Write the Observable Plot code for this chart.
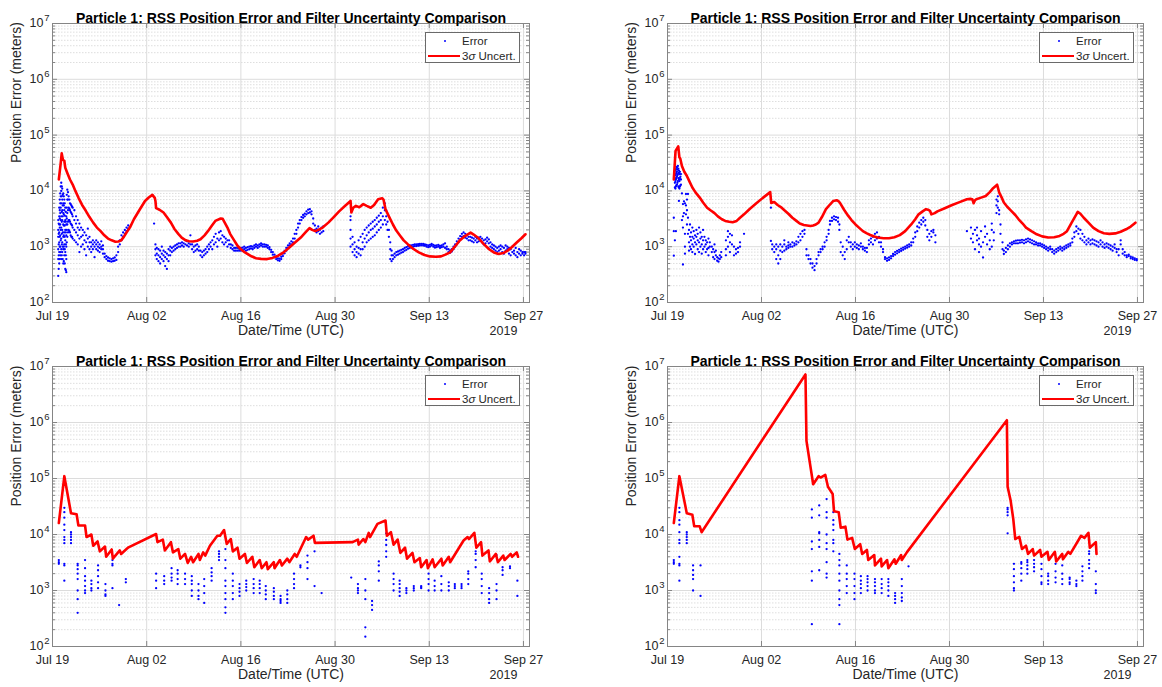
<!DOCTYPE html>
<html><head><meta charset="utf-8">
<script src="https://cdn.jsdelivr.net/npm/d3@7"></script>
<script src="https://cdn.jsdelivr.net/npm/@observablehq/plot@0.6"></script>
<style>
body{margin:0;background:#fff;}
#root{position:relative;width:1162px;height:687px;overflow:hidden;font-family:"Liberation Sans",Arial,sans-serif;background:#fff;}
.cell{position:absolute;}
.legend{position:absolute;width:95px;height:31px;box-sizing:border-box;border:1px solid #6a6a6a;background:#fff;color:#262626;font-size:11.5px;}
.ldot{position:absolute;left:17.8px;top:6.8px;width:2.4px;height:2.4px;border-radius:50%;background:#0000ff;}
.lline{position:absolute;left:2px;top:21.75px;width:32px;height:2.5px;background:#ff0000;}
.lt{position:absolute;left:36px;line-height:16px;white-space:nowrap;}
</style></head><body><div id="root"></div>
<script>
// ---------- axis tick values / labels ----------
const xTickDates = ["2019-07-19","2019-08-02","2019-08-16","2019-08-30","2019-09-13","2019-09-27"];
const xTickLabels = ["Jul 19","Aug 02","Aug 16","Aug 30","Sep 13","Sep 27"];
const yDecades = [1e2,1e3,1e4,1e5,1e6,1e7];
const titleText = "Particle 1: RSS Position Error and Filter Uncertainty Comparison";
const yLabelText = "Position Error (meters)";
const xLabelText = "Date/Time (UTC)";
const yearText = "2019";
const startDate = "2019-07-19"; // day 0 of the series below
const xSpanDays = 70.9;

// ---------- Panel 1 (top-left) ----------
// 3-sigma uncertainty: [day since Jul 19, meters]
const p1Unc = [[0.94,16000],[1.2,30000],[1.37,47000],[1.55,36000],[1.75,35000],[1.9,26000],[2.2,21000],[2.6,16000],[3.0,13000],[3.4,10000],[3.85,7600],[4.4,5600],[4.95,4400],[5.5,3400],[6.05,2700],[6.6,2200],[7.15,1900],[7.7,1600],[8.25,1400],[8.8,1300],[9.35,1230],[9.8,1240],[10.2,1300],[10.6,1500],[11.0,1800],[11.5,2200],[12.1,3100],[12.9,4500],[13.75,6600],[14.3,7600],[14.85,8500],[15.2,7500],[15.3,6600],[15.4,4900],[15.9,4600],[16.5,4100],[17.0,3400],[17.6,2700],[18.1,2100],[18.7,1700],[19.2,1450],[19.8,1300],[20.3,1250],[20.9,1240],[21.5,1280],[22.0,1360],[22.6,1600],[23.1,1900],[23.7,2400],[24.2,2900],[25.0,3200],[25.3,3150],[25.6,2700],[26.0,2200],[26.4,1700],[27.0,1300],[27.5,1040],[28.0,900],[28.6,790],[29.4,690],[30.25,620],[31.0,605],[31.9,600],[32.7,630],[33.55,690],[34.4,800],[35.2,970],[36.0,1180],[36.9,1460],[37.6,1800],[38.2,2150],[38.6,2000],[39.05,1900],[39.5,2000],[40.15,2200],[41.0,2700],[41.8,3400],[42.6,4300],[43.5,5400],[44.3,6600],[44.42,4100],[44.7,5000],[45.1,5400],[45.6,5100],[46.2,5800],[46.7,5400],[47.3,5000],[47.8,5600],[48.4,7100],[49.0,7400],[49.2,7000],[49.5,4700],[50.0,3500],[50.6,2500],[51.1,1950],[51.7,1560],[52.2,1300],[52.8,1110],[53.6,920],[54.45,790],[55.3,710],[56.1,670],[57.0,660],[57.75,670],[58.4,720],[59.1,790],[59.8,1000],[60.5,1280],[61.3,1550],[62.15,1790],[62.6,1650],[63.25,1450],[64.0,1150],[64.9,900],[65.6,790],[66.3,740],[67.0,770],[67.65,850],[68.3,990],[69.0,1190],[69.7,1420],[70.3,1670]];
// RSS error samples: [day, [meters...]]
const p1Err = [[0.85,[300,600,900,1500,2000,3000]],[0.92,[400,700,1100,1700,2600]],[1.0,[500,800,1200,1800,2500,3500,5000]],[1.08,[600,1000,1500,2200,3200,4500,7000]],[1.15,[700,1000,1600,2500,4000,6000,9000]],[1.22,[800,1300,2000,3000,5000,8000,12000]],[1.3,[600,900,1400,2200,3500,6000,10000,14000]],[1.38,[700,1100,1700,2800,4200,8000,12000]],[1.45,[800,1200,2000,3000,4500,7000,11000]],[1.52,[600,1000,1800,3500,5500,8500]],[1.6,[500,900,1500,2500,4000,6000,9000]],[1.68,[550,1000,1600,2400,3800,5500,8000]],[1.75,[700,1100,1800,2800,4500,7000]],[1.82,[500,900,1500,2400,3600,6000]],[1.9,[400,800,1300,2000,3000,5000]],[1.98,[380,700,1100,1800,2800,4200]],[2.05,[350,600,1000,1600,2500,3500]],[2.12,[1200,2000,3200,5000,8500]],[2.2,[1500,2500,4000,7000,10500]],[2.3,[1800,2800,4500,7000,9500]],[2.4,[2000,3000,5000,8000]],[2.5,[1900,3000,4800,7000]],[2.6,[1800,2800,4500,6000]],[2.7,[1600,2600,4200,5800]],[2.8,[1500,2500,4000,5500]],[2.9,[1500,2400,3800,5200]],[3.0,[1400,2200,3500,5000]],[3.25,[1300,2000,3000,4500]],[3.5,[1200,1800,2600,3500]],[3.75,[1100,1600,2200,3000]],[4.0,[800,1400,2000,2600]],[4.25,[1000,1500,2200]],[4.5,[1100,1600,2000]],[4.75,[900,1300,1800]],[5.0,[700,1200,1600]],[5.25,[1000,1400,2100]],[5.5,[900,1200,1500]],[5.75,[800,1000,1200]],[6.0,[900,1100,1300]],[6.25,[650,1000,1200]],[6.5,[900,1100,1300]],[6.75,[850,1000,1200]],[7.0,[800,950,1100]],[7.25,[900,1000,1250]],[7.5,[750,900,1050]],[7.75,[650,750]],[8.0,[600,680]],[8.25,[560,640]],[8.5,[550,620]],[8.75,[540,600]],[9.0,[550,620]],[9.25,[560,640]],[9.5,[580,700]],[9.75,[800,1000]],[10.0,[1100,1300]],[10.25,[1300,1600]],[10.5,[1500,1800]],[10.75,[1700,2000]],[11.0,[1900,2200]],[11.25,[2100,2400]],
[15.1,[2600]],[15.3,[700,900,1100]],[15.5,[600,750,950]],[15.75,[550,700,900]],[16.0,[500,650,850]],[16.25,[600,750,1000]],[16.5,[550,700,850]],[16.75,[450,650,800]],[17.0,[400,600,750]],[17.25,[550,700,900]],[17.5,[700,850,1000]],[17.75,[800,950]],[18.0,[850,1000]],[18.25,[900,1050]],[18.5,[950,1100]],[18.75,[1000,1150]],[19.0,[1000,1150]],[19.25,[1050,1200]],[19.5,[1000,1150]],[19.75,[1100,1300]],[20.0,[1050,1250]],[20.25,[1000,1150]],[20.5,[1100,1600]],[20.75,[900,1100]],[21.0,[800,1000]],[21.25,[850,1050]],[21.5,[900,1100]],[21.75,[850,1000]],[22.0,[700,850]],[22.25,[650,800]],[22.5,[700,850]],[22.75,[750,900]],[23.0,[800,1000]],[23.25,[900,1100]],[23.5,[1000,1200]],[23.75,[900,1300]],[24.0,[1100,1500]],[24.25,[1200,1700]],[24.5,[1000,1400]],[24.75,[1300,1800]],[25.0,[1400,1900]],[25.25,[1200,1600]],[25.5,[1100,1500]],[25.75,[1200,1400]],[26.0,[1000,1300]],[26.25,[1100,1300]],[26.5,[950,1100]],[26.75,[900,1050]],[27.0,[850,950]],[27.25,[850,950]],[27.5,[850,950]],[27.75,[850,920]],[28.0,[850,950]],[28.25,[880,960]],[28.5,[900,1000]],[28.75,[850,950]],[29.0,[880,980]],[29.25,[900,1000]],[29.5,[930,1020]],[29.75,[900,1000]],[30.0,[950,1050]],[30.25,[1000,1100]],[30.5,[950,1050]],[30.75,[1000,1100]],[31.0,[1050,1150]],[31.25,[1000,1100]],[31.5,[1000,1100]],[31.75,[1000,1080]],[32.0,[950,1050]],[32.25,[900,980]],[32.5,[800,880]],[32.75,[720,800]],[33.0,[650,720]],[33.25,[600,660]],[33.5,[570,620]],[33.75,[560,610]],[34.0,[600,660]],[34.25,[680,750]],[34.5,[760,840]],[34.75,[850,950]],[35.0,[950,1050]],[35.25,[1050,1150]],[35.5,[1100,1250]],[35.75,[1200,1400]],[36.0,[1400,1700]],[36.25,[1700,2000]],[36.5,[2200,2600]],[36.75,[2600,3000]],[37.0,[3000,3400]],[37.25,[3300,3700]],[37.5,[3500,3900]],[37.75,[3800,4300]],[38.0,[4000,4600]],[38.25,[4100,4700]],[38.5,[3800,4300]],[38.75,[2600,3200]],[39.0,[2000,2400]],[39.25,[1800,2100]],[39.5,[1900,2300]],[39.75,[1700,2000]],[40.0,[1800,2200]],[40.25,[1900,2300]],
[44.3,[1000,1400,2000,3000,3500]],[44.6,[800,1100,1500]],[44.9,[700,900,1200]],[45.2,[650,800,1000]],[45.5,[750,950,1300]],[45.8,[700,900,1500]],[46.1,[900,1200,1700]],[46.4,[1000,1400,2000]],[46.7,[1200,1600,2200]],[47.0,[1300,1800,2400]],[47.3,[1400,2000,2600]],[47.6,[1500,2100,2800]],[47.9,[1600,2300,3000]],[48.2,[1800,2500,3300]],[48.5,[2000,2800,3600]],[48.8,[2200,3000,4000]],[49.1,[2500,3500,5000]],[49.4,[3000,4500,6000]],[49.6,[2500,3500,4500]],[49.8,[2000,2800]],[50.0,[1500,2000]],[50.2,[600,900,1200]],[50.4,[550,700,850]],[50.6,[600,700]],[50.85,[650,750]],[51.1,[700,800]],[51.35,[720,820]],[51.6,[750,850]],[51.85,[780,880]],[52.1,[800,900]],[52.35,[850,950]],[52.6,[880,980]],[52.85,[920,1020]],[53.1,[950,1050]],[53.35,[980,1060]],[53.6,[1000,1080]],[53.85,[1020,1100]],[54.1,[1030,1100]],[54.35,[1040,1110]],[54.6,[1050,1120]],[54.85,[1060,1120]],[55.1,[1050,1120]],[55.35,[1040,1100]],[55.6,[1000,1080]],[55.85,[980,1060]],[56.1,[1000,1080]],[56.35,[1050,1120]],[56.6,[1000,1080]],[56.85,[960,1040]],[57.1,[980,1060]],[57.35,[1000,1080]],[57.6,[950,1030]],[57.85,[980,1060]],[58.1,[1000,1100]],[58.35,[950,1150]],[58.6,[900,1000]],[58.85,[800,900]],[59.1,[780,860]],[59.35,[820,900]],[59.6,[900,1000]],[59.85,[1000,1100]],[60.1,[1100,1250]],[60.35,[1200,1400]],[60.6,[1350,1550]],[60.85,[1500,1700]],[61.1,[1550,1800]],[61.35,[1450,1700]],[61.6,[1400,1600]],[61.85,[1300,1500]],[62.1,[1300,1500]],[62.35,[1250,1450]],[62.6,[1200,1400]],[62.85,[1300,1500]],[63.1,[1200,1400]],[63.35,[1250,1450]],[63.6,[1300,1500]],[63.85,[1200,1400]],[64.1,[1100,1300]],[64.35,[1150,1350]],[64.6,[1250,1450]],[64.85,[1150,1350]],[65.1,[1000,1200]],[65.35,[950,1100]],[65.6,[900,1050]],[65.85,[850,1000]],[66.1,[800,950]],[66.35,[850,1000]],[66.6,[900,1050]],[66.85,[800,1000]],[67.1,[750,950]],[67.35,[850,1050]],[67.6,[900,1000]],[67.85,[750,950]],[68.1,[700,900]],[68.35,[800,1000]],[68.6,[750,850]],[68.85,[700,950]],[69.1,[650,800]],[69.35,[750,900]],[69.6,[700,850]],[69.85,[750,800]],[70.1,[700,800]],[70.3,[750,800]]];

// ---------- Panel 2 (top-right) ----------
const p2Unc = [[0.94,16000],[1.2,52000],[1.6,63000],[1.77,40000],[1.9,38000],[2.15,28000],[2.5,22000],[2.87,18700],[3.3,14500],[3.7,11500],[4.2,9300],[4.8,7600],[5.3,6200],[5.9,5000],[6.4,4500],[7.0,4000],[7.5,3500],[8.1,3100],[8.6,2900],[9.2,2800],[9.7,2750],[10.3,2900],[10.8,3300],[11.4,3800],[12.2,4700],[13.1,5800],[14.2,7500],[15.3,9500],[15.45,6100],[15.9,6300],[16.4,5600],[17.0,5000],[17.5,4400],[18.0,3900],[18.6,3300],[19.2,2900],[19.7,2600],[20.3,2450],[20.8,2400],[21.3,2350],[21.7,2400],[22.1,2500],[22.5,2700],[23.0,3400],[23.6,4700],[24.2,5700],[24.7,6600],[25.2,6800],[25.5,6500],[25.8,5800],[26.3,4600],[26.9,3600],[27.4,3000],[28.0,2500],[28.6,2150],[29.1,1900],[29.7,1730],[30.2,1620],[30.8,1520],[31.3,1460],[32.2,1420],[33.0,1420],[33.8,1480],[34.6,1610],[35.4,1900],[36.3,2500],[36.9,3100],[37.4,3800],[38.0,4300],[38.5,4700],[38.8,4600],[39.1,4400],[39.3,3800],[39.8,4000],[40.2,4300],[41.3,4900],[42.4,5600],[43.5,6300],[44.6,7100],[45.1,7200],[45.4,7100],[45.6,6000],[45.8,6800],[46.0,7100],[46.6,7500],[47.4,8100],[48.0,9500],[48.5,11200],[49.1,12900],[49.4,9400],[49.8,7500],[50.1,6200],[50.6,5200],[51.2,4400],[51.8,3700],[52.3,3100],[52.9,2600],[53.4,2200],[54.2,1900],[55.0,1670],[55.8,1530],[56.7,1460],[57.6,1480],[58.4,1560],[59.0,1700],[59.5,1900],[60.2,2700],[60.9,3800],[61.1,4200],[61.5,3900],[62.0,3300],[62.7,2700],[63.4,2200],[64.2,1900],[65.0,1740],[65.8,1700],[66.7,1730],[67.5,1850],[68.3,2050],[69.0,2300],[69.7,2700]];
const p2Err = [[0.94,[690,1900,3300]],[1.1,[1300,11500,14000,17000]],[1.18,[11000,15000,19000,23000]],[1.25,[1900,12000,16000,20000,24500]],[1.32,[12500,17000,21000,27000]],[1.4,[13000,18000,22000,26000]],[1.48,[14000,19000,24000]],[1.55,[15000,20000,28000]],[1.62,[12000,17000,25000]],[1.7,[6600,11500,16000,21000,23000]],[1.78,[11000,15000,20000]],[1.85,[12000,17000,22000]],[1.92,[12500,18000]],[2.0,[13000,16000,20000]],[2.15,[3000,9000]],[2.3,[480,2200,3500,5800]],[2.45,[4000,6500]],[2.6,[750,1000,1700,6000]],[2.75,[3800,5500,8800]],[2.9,[2500,4500,7000]],[3.05,[1700,3300,8800]],[3.2,[850,1200,2000]],[3.35,[1000,1500,2500]],[3.5,[900,1300,1800]],[3.7,[800,1100,1500,2200]],[3.9,[1000,1400,1900]],[4.1,[740,1200,1600]],[4.3,[1100,1500,2000]],[4.5,[900,1300,1700]],[4.7,[800,1200,2200]],[4.9,[1000,1400,1800]],[5.1,[750,1100,1500]],[5.3,[900,1300,2000]],[5.5,[1000,1500]],[5.7,[800,1100,1300]],[5.9,[900,1200]],[6.1,[700,950,1400]],[6.3,[1000,1200]],[6.6,[800,1000]],[6.8,[650,900]],[7.0,[600,800,1100]],[7.2,[700,850]],[7.4,[560,650]],[7.6,[540,620]],[7.8,[600,700]],[8.0,[650,800]],[8.7,[700,900,1300]],[9.0,[1000,1500,1900]],[9.3,[800,1200,1700]],[9.6,[1100,1600]],[9.9,[700,1000]],[10.2,[750,900]],[10.5,[800,950]],[10.8,[1000,1200]],[11.4,[1700]],
[15.4,[1270,5000]],[15.6,[900,1100]],[15.9,[800,1000]],[16.2,[600,900,1100]],[16.5,[500,700,1000]],[16.8,[600,850,1100]],[17.1,[800,1000]],[17.4,[850,1100,1300]],[17.7,[900,1000]],[18.0,[950,1050,1200]],[18.3,[1000,1100]],[18.6,[1000,1200]],[18.9,[1050,1150]],[19.2,[1100,1250]],[19.5,[1200,1500]],[19.8,[1300,1700]],[20.1,[1500,1900]],[20.4,[1700,2000]],[20.7,[700,900]],[21.0,[600,700]],[21.3,[500,600]],[21.6,[420,500]],[21.9,[380,450]],[22.2,[500,600]],[22.5,[700,800]],[22.8,[800,900]],[23.1,[900,1000]],[23.4,[1000,1200]],[23.7,[1300,1500]],[24.0,[1700,2000]],[24.2,[2500,2900]],[24.5,[2900,3300]],[24.8,[3100,3500]],[25.1,[3000,3400]],[25.4,[2800,3300]],[25.6,[2000,2500]],[25.8,[800,1200]],[26.1,[700,1000]],[26.4,[600,800]],[26.7,[900,1300]],[27.0,[1200,1500]],[27.3,[1000,1200]],[27.6,[900,1100]],[27.9,[1000,1200]],[28.2,[950,1100]],[28.5,[900,1050]],[28.8,[1000,1150]],[29.1,[900,1000]],[29.4,[850,950]],[29.7,[800,950]],[30.0,[1100,1300]],[30.3,[1200,1400]],[30.6,[1100,1500]],[30.9,[1300,1700]],[31.2,[1400,1800]],[31.5,[1200,1500]],[31.8,[1000,1200]],[32.1,[800,900]],[32.4,[600,650]],[32.7,[560,620]],[33.0,[580,640]],[33.3,[620,680]],[33.6,[680,740]],[33.9,[720,800]],[34.2,[760,840]],[34.5,[800,880]],[34.8,[840,920]],[35.1,[880,960]],[35.4,[920,1000]],[35.7,[960,1050]],[36.0,[1000,1100]],[36.3,[1050,1200]],[36.6,[1200,1400]],[36.9,[1500,1800]],[37.2,[1900,2300]],[37.5,[2200,2700]],[37.8,[2500,3000]],[38.1,[2800,3300]],[38.4,[2400,3000]],[38.7,[1500,2000]],[39.0,[1300,1700]],[39.3,[1500,1900]],[39.6,[1800,2000]],[39.9,[1200,1600]],
[44.6,[1900]],[45.2,[1400,2200]],[45.5,[1200,1700]],[45.8,[900,2000]],[46.1,[1300,1600,2200]],[46.4,[800,1100,1400]],[46.7,[1000,1900]],[47.0,[640,1200]],[47.3,[1500,2300]],[47.6,[1100,1700]],[48.0,[900,1300]],[48.3,[1000,2000,2600]],[48.6,[1300,1800]],[49.0,[4000,5500,7000]],[49.2,[5000,6500,8000]],[49.4,[3800,4500]],[49.6,[1700,2500]],[49.9,[900,1200]],[50.1,[740,850]],[50.4,[800,950]],[50.7,[900,1050]],[51.0,[1000,1150]],[51.3,[1100,1200]],[51.6,[1150,1250]],[51.9,[1150,1280]],[52.2,[1150,1300]],[52.5,[1180,1300]],[52.8,[1200,1330]],[53.1,[1150,1300]],[53.4,[1200,1350]],[53.7,[1250,1400]],[54.0,[1200,1350]],[54.3,[1150,1300]],[54.6,[1100,1250]],[54.9,[1100,1200]],[55.2,[1050,1150]],[55.5,[1050,1150]],[55.8,[1000,1100]],[56.1,[950,1050]],[56.4,[900,1000]],[56.7,[850,950]],[57.0,[900,1000]],[57.3,[800,900]],[57.6,[750,850]],[57.9,[800,900]],[58.2,[850,950]],[58.5,[900,1000]],[58.8,[850,950]],[59.1,[900,1000]],[59.4,[950,1050]],[59.7,[1000,1100]],[60.0,[1050,1150]],[60.3,[1200,1400]],[60.6,[1500,1800]],[60.9,[1900,2300]],[61.2,[1700,2100]],[61.5,[1400,2000]],[61.8,[1300,1700]],[62.1,[1200,1500]],[62.4,[1100,1300]],[62.7,[1200,1400]],[63.0,[1100,1300]],[63.3,[1150,1350]],[63.6,[1100,1300]],[63.9,[1050,1250]],[64.2,[1000,1200]],[64.5,[1100,1300]],[64.8,[1000,1200]],[65.1,[950,1100]],[65.4,[1000,1150]],[65.7,[950,1100]],[66.0,[900,1050]],[66.3,[850,1000]],[66.6,[950,1100]],[66.9,[800,900]],[67.2,[700,900]],[67.5,[1100,1300]],[67.8,[750,900]],[68.1,[700,800]],[68.4,[650,700]],[68.7,[680,720]],[69.0,[620,660]],[69.3,[600,640]],[69.6,[580,620]],[69.9,[570,600]]];

// ---------- Panel 3 (bottom-left) ----------
const p3Unc = [[0.94,16000],[1.76,110000],[2.75,24000],[3.58,23000],[3.85,14500],[4.84,14500],[5.06,9000],[5.78,10000],[6.05,6300],[6.7,7500],[7.04,5000],[7.8,6100],[7.98,4000],[8.8,5400],[8.97,3700],[10.0,5200],[10.2,4500],[11.0,5500],[11.3,5900],[15.4,10200],[15.6,7300],[16.4,8100],[16.7,5200],[17.6,7300],[17.9,4800],[18.7,5500],[19.0,3700],[19.7,4500],[20.1,3100],[20.6,4000],[20.9,3200],[21.7,4500],[21.9,3500],[22.4,4800],[22.7,4200],[23.4,6300],[24.5,9500],[24.9,9500],[25.5,12000],[25.9,6800],[26.5,8300],[26.8,5000],[27.5,5800],[27.8,3700],[28.6,4500],[28.9,3100],[29.7,4000],[30.0,2600],[30.8,3500],[31.1,2500],[31.8,3200],[32.0,2400],[32.9,3200],[33.0,2500],[33.8,3500],[34.1,2800],[34.9,3700],[35.2,3200],[36.0,4500],[36.3,4000],[37.7,9000],[38.0,8100],[38.8,9500],[39.0,7100],[44.6,7300],[45.4,8100],[45.5,6600],[46.2,8300],[46.5,7300],[47.0,10700],[47.2,9000],[48.3,15500],[49.5,17800],[49.7,9500],[50.3,11000],[50.7,6600],[51.3,8100],[51.7,4700],[52.4,5800],[52.7,3700],[53.5,4700],[53.8,3200],[54.6,3800],[54.8,2600],[55.6,3500],[55.8,2500],[56.5,3600],[56.8,2600],[57.8,3700],[58.0,2800],[58.9,4000],[59.1,3200],[61.1,7800],[61.7,9000],[61.9,8300],[62.7,10700],[63.0,5800],[63.7,7300],[63.9,4200],[64.8,5200],[65.0,3300],[65.9,4500],[66.2,3200],[67.0,4200],[67.2,3500],[68.1,4500],[68.3,4000],[69.0,4800],[69.2,4000]];
const p3Err = [[0.94,[3000,3200,3500]],[1.76,[1500,2800,3000,7000,8000,9000,12000,15000,20000,25000,30000]],[2.75,[7000,8000,9000,10000,11000]],[3.74,[400,700,1000,1600,2000,2400,2800,3000]],[4.84,[900,1000,1200,1500,1800,2500,3500]],[5.78,[1000,1100,1300,1500]],[6.77,[1100,1400,1800,2300,2800]],[7.87,[800,850,1000,1300]],[8.91,[1100,2800,3000,3500]],[9.9,[550]],[10.9,[1400,1600]],[15.4,[1100,1500,2000]],[16.6,[1300,1500,1800]],[17.7,[1500,1700,2000,2500]],[18.6,[1300,1600,2000,2300]],[19.7,[1300,1600,2000]],[20.7,[800,1000,1300,1500,1800]],[21.7,[700,800,1000,1300]],[22.55,[600,900,1200,1600]],[23.65,[1500,1800,2100,2500]],[24.75,[3500,4000,4500,5000]],[25.7,[400,500,700,900,1200,1500,2500,3500,5500]],[26.8,[700,900,1200,1500,2000]],[27.8,[800,950,1100,1300]],[28.8,[1000,1150,1300,1500]],[29.9,[900,1100,1300,1600]],[30.8,[900,1100,1300,1500]],[31.7,[700,850,1000,1200]],[32.9,[700,800,950,1100]],[33.9,[600,650,700,800]],[34.9,[600,700,850,1000]],[35.9,[1100,1300,1600,2000]],[36.85,[2600,2800]],[37.9,[1600,2500,3200,4200]],[38.95,[1200,5000]],[40.0,[900]],[44.4,[1700]],[45.4,[900,1000,1100,1300]],[46.5,[150,220,700,1000,1600]],[47.5,[450,550,650]],[48.5,[1500,2200,2800,3300]],[49.6,[4000,5000,6500,8000,10500]],[50.7,[1000,1300,1600,2000]],[51.6,[800,950,1100,1300,1500]],[52.6,[900,1000,1100]],[53.7,[1000,1100,1200]],[54.8,[1100,1150,1200]],[55.9,[1000,1300,1600,2000]],[56.8,[1000,1200,1500]],[57.8,[1000,1300,1800]],[58.9,[1000,1200,1400]],[59.8,[1100,1200,1300]],[60.8,[1100,1200,1300]],[61.8,[1300,1600,2000,2200]],[62.9,[2600,3500,4500,5000]],[63.8,[900,1200,1600,2000]],[64.9,[600,700,900,1100]],[66.0,[700,1000,1300,4300]],[66.9,[1900,2300,2600]],[68.0,[2500,2700]],[69.1,[800,1500]]];

// ---------- Panel 4 (bottom-right) ----------
const p4Unc = [[0.94,16000],[1.77,110000],[2.6,35000],[2.87,24000],[3.7,22500],[3.98,14000],[4.8,14000],[5.08,11000],[20.55,7200000],[20.7,470000],[21.7,79000],[22.5,110000],[22.8,104000],[23.5,116000],[23.9,71000],[24.6,53000],[24.8,26000],[25.5,25000],[25.8,13200],[26.5,13800],[26.8,8100],[27.5,8700],[27.9,5500],[28.7,6700],[29.0,4500],[29.7,5300],[29.9,3500],[30.8,4300],[30.9,2800],[31.8,3700],[31.9,2700],[32.7,3500],[32.9,2500],[33.8,3600],[34.0,3000],[34.8,4300],[34.9,3500],[35.7,4900],[50.55,1100000],[50.66,71000],[51.1,41000],[51.5,19000],[51.8,8300],[52.4,9100],[52.8,5500],[53.4,6300],[53.7,4500],[54.4,5500],[54.6,4200],[55.5,5300],[55.7,4000],[56.6,4900],[56.8,3500],[57.7,4900],[57.9,3300],[58.8,4500],[58.9,3600],[59.7,4900],[60.0,4500],[61.6,9500],[62.1,8700],[62.7,10700],[62.9,5800],[63.8,7300],[63.9,4500]];
const p4Err = [[0.94,[3000,3200,3500]],[1.77,[1500,2800,3000,4000,7000,8000,11000,15000,18000,25000,30000]],[2.87,[7000,8000,9000,10000,11000]],[3.81,[1000,1600,1900,2300,2800]],[4.92,[800,2800]],[21.5,[250,1500,2200,5500,7500,20000,28000]],[22.6,[2300,6000,8000,10500,11000,22000,33000]],[23.7,[1700,2000,3200,5500,7000,10000,20000,25000,43000]],[24.7,[5000,7000,8000,12000,15000,18000,25000]],[25.6,[250,550,700,1000,1500,2000,2800,3500,4500]],[26.7,[900,1200,1600,2000,2800]],[27.85,[700,900,1200,1600,2000]],[28.8,[900,1100,1300,1500,1800]],[29.8,[1000,1200,1400,1600,1800]],[30.9,[900,1000,1200,1400,1600]],[31.9,[900,1100,1300,1600]],[32.9,[800,1000,1200,1400,1600]],[33.9,[600,700,800,900]],[34.9,[650,750,900,1200,1600]],[35.9,[2700]],[50.66,[10500,22000,25000,28000,30000]],[51.6,[1000,1100,1400,1800,2400,3000]],[52.7,[1500,2000,2500,3000,3200]],[53.6,[2000,2400,2800,3200,3500]],[54.6,[2200,2600,3000,3500]],[55.7,[1300,1400,1800,2400,3000]],[56.7,[1300,1500,1800,2000]],[57.8,[1400,1700,2200,3000]],[58.8,[1300,1600,2000,2800]],[59.9,[1300,1400,1600,1700]],[60.9,[1200,1300,1500]],[61.8,[1500,1800,2200,2700]],[62.8,[2500,3000,3500,4500,5000]],[63.8,[900,1000,1300,2200]]];

// ---------- rendering ----------
const T0 = Date.parse(startDate + "T00:00:00Z");
const toDate = d => new Date(T0 + d * 864e5);
const xTicks = xTickDates.map(s => new Date(s + "T00:00:00Z"));
const yMinor = [];
for (const dec of yDecades.slice(0, -1)) for (let m = 2; m <= 9; m++) yMinor.push(m * dec);

const FONT = "Liberation Sans, Arial, Helvetica, sans-serif";
const TXT = "#262626";
const AX = "#858585";

function panel({unc, err, width, height, ml, mr, mt, mb}) {
  const fw = width - ml - mr, fh = height - mt - mb;
  const uncRows = unc.map(([d, v]) => ({t: toDate(d), v}));
  const errRows = err.flatMap(([d, vs]) => vs.map(v => ({t: toDate(d), v})));
  return Plot.plot({
    width, height, marginLeft: ml, marginRight: mr, marginTop: mt, marginBottom: mb,
    style: {fontFamily: FONT, background: "#fff", overflow: "visible", color: TXT},
    x: {type: "utc", domain: [toDate(0), toDate(xSpanDays)], axis: null},
    y: {type: "log", domain: [1e2, 1e7], axis: null},
    marks: [
      Plot.ruleY(yMinor, {stroke: "#d6d6d6", strokeDasharray: "1.5,1.5", strokeWidth: 0.8}),
      Plot.ruleY(yDecades, {stroke: "#dcdcdc", strokeWidth: 1}),
      Plot.ruleX(xTicks, {stroke: "#dcdcdc", strokeWidth: 1}),
      Plot.dot(errRows, {x: "t", y: "v", r: 1.15, fill: "#0000ff", stroke: "none", clip: true}),
      Plot.line(uncRows, {x: "t", y: "v", stroke: "#ff0000", strokeWidth: 2.6, strokeLinejoin: "round", clip: true}),
      Plot.frame({stroke: AX, strokeWidth: 1}),
      // inward ticks on all sides
      Plot.ruleX(xTicks, {stroke: AX, insetTop: fh - 5}),
      Plot.ruleX(xTicks, {stroke: AX, insetBottom: fh - 5}),
      Plot.ruleY(yDecades, {stroke: AX, insetRight: fw - 5}),
      Plot.ruleY(yDecades, {stroke: AX, insetLeft: fw - 5}),
      Plot.ruleY(yMinor, {stroke: AX, insetRight: fw - 3}),
      Plot.ruleY(yMinor, {stroke: AX, insetLeft: fw - 3}),
      // tick labels
      Plot.text(xTicks, {x: d => d, text: (d, i) => xTickLabels[i], frameAnchor: "bottom", dy: 17, fontSize: 12.5, fill: TXT}),
      Plot.text(yDecades, {y: d => d, text: () => "10", frameAnchor: "left", textAnchor: "end", dx: -9, dy: -0.5, fontSize: 12.5, fill: TXT}),
      Plot.text(yDecades, {y: d => d, text: d => String(Math.round(Math.log10(d))), frameAnchor: "left", textAnchor: "end", dx: -3, dy: -5.5, fontSize: 9.5, fill: TXT}),
      // title and axis labels
      Plot.text([titleText], {text: d => d, frameAnchor: "top", dy: -10, fontSize: 14, fontWeight: "bold", fill: "#000"}),
      Plot.text([yLabelText], {text: d => d, frameAnchor: "left", dx: -36, rotate: -90, fontSize: 14, fill: TXT}),
      Plot.text([xLabelText], {text: d => d, frameAnchor: "bottom", dy: 32, fontSize: 14, fill: TXT}),
      Plot.text([yearText], {text: d => d, frameAnchor: "bottom-right", dx: -26, dy: 32, textAnchor: "middle", fontSize: 12.5, fill: TXT})
    ]
  });
}

const cells = [
  {unc: p1Unc, err: p1Err, left: 0,   top: 0,   width: 581, height: 343, ml: 52, mr: 52, mt: 23, mb: 41},
  {unc: p2Unc, err: p2Err, left: 581, top: 0,   width: 581, height: 343, ml: 86, mr: 19, mt: 23, mb: 41},
  {unc: p3Unc, err: p3Err, left: 0,   top: 343, width: 581, height: 344, ml: 52, mr: 52, mt: 23, mb: 41},
  {unc: p4Unc, err: p4Err, left: 581, top: 343, width: 581, height: 344, ml: 86, mr: 19, mt: 23, mb: 41}
];

const root = document.getElementById("root");
for (const c of cells) {
  const div = document.createElement("div");
  div.className = "cell";
  div.style.left = c.left + "px";
  div.style.top = c.top + "px";
  div.appendChild(panel(c));
  root.appendChild(div);
  // legend (box at top-right inside the axes)
  const lg = document.createElement("div");
  lg.className = "legend";
  lg.style.left = (c.left + c.width - c.mr - 9 - 95) + "px";
  lg.style.top = (c.top + c.mt + 9) + "px";
  lg.innerHTML = '<span class="ldot"></span><span class="lt" style="top:0px">Error</span>' +
    '<span class="lline"></span><span class="lt" style="top:15px">3<i>σ</i> Uncert.</span>';
  root.appendChild(lg);
}
</script></body></html>
